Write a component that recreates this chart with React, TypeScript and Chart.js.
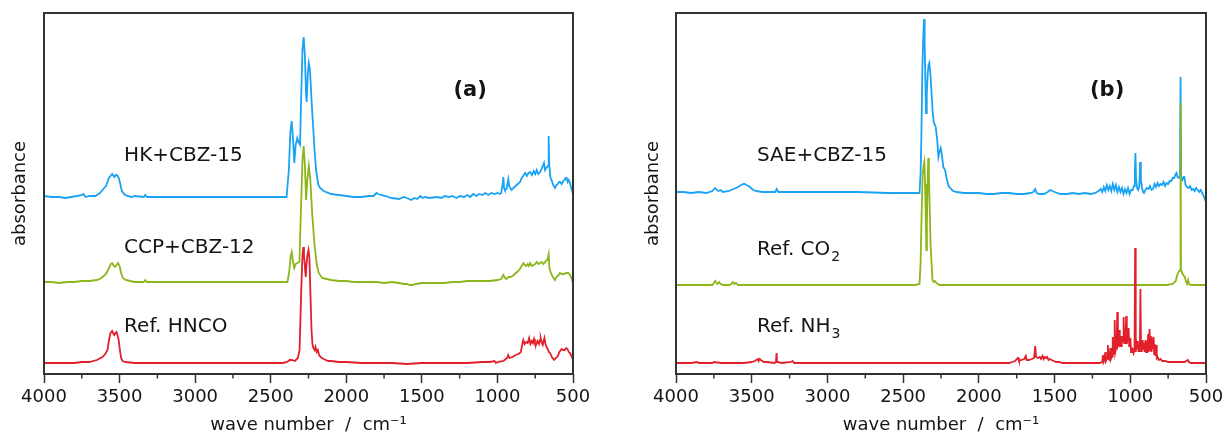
import React, { useEffect, useRef } from "react";
import { Chart, registerables } from "chart.js";

Chart.register(...registerables);

type Pt = [number, number];

const FONT = '"DejaVu Sans", Verdana, sans-serif';
const AXIS_COLOR = "#333333";
const TEXT_COLOR = "#151515";
const BLUE = "#1aa2f4";
const GREEN = "#8db51c";
const RED = "#e2202b";

const X_MIN = 500;
const X_MAX = 4000;
const majorTicks = [500, 1000, 1500, 2000, 2500, 3000, 3500, 4000];
const minorTicks = [750, 1250, 1750, 2250, 2750, 3250, 3750];
const Y_MAX = 361;

// ---------- panel (a) ----------
const hkCbz15: Pt[] = [
  [4000, 178], [3950, 177], [3900, 177], [3860, 176], [3820, 177], [3780, 178], [3750, 179], [3739, 180], [3725, 177],
  [3700, 178], [3660, 178], [3630, 181], [3613, 184], [3590, 188], [3570, 196], [3555, 199], [3549, 200], [3540, 198],
  [3535, 197], [3525, 199], [3518, 199], [3505, 196], [3495, 190], [3485, 183], [3470, 180], [3450, 178], [3420, 177],
  [3400, 178], [3340, 177], [3330, 179], [3320, 177], [3250, 177], [3100, 177], [3000, 177], [2900, 177], [2800, 177],
  [2700, 177], [2600, 177], [2500, 177], [2420, 177], [2395, 177], [2388, 190], [2380, 204], [2370, 242], [2361, 253],
  [2352, 234], [2344, 211], [2335, 229], [2324, 236], [2314, 231], [2306, 229], [2298, 279], [2290, 324], [2282, 337],
  [2274, 319], [2266, 279], [2262, 272], [2255, 299], [2248, 311], [2240, 304], [2230, 274], [2220, 249], [2210, 224],
  [2200, 204], [2185, 189], [2173, 186], [2150, 183], [2100, 180], [2050, 179], [2000, 178], [1950, 177], [1900, 177],
  [1850, 178], [1820, 178], [1800, 181], [1790, 180], [1770, 179], [1740, 178], [1700, 176], [1650, 175], [1620, 177],
  [1600, 176], [1570, 174], [1550, 176], [1530, 175], [1510, 178], [1495, 176], [1480, 177], [1450, 176], [1400, 177],
  [1370, 176], [1350, 178], [1320, 177], [1300, 178], [1270, 176], [1250, 178], [1220, 177], [1200, 179], [1180, 177],
  [1160, 180], [1140, 178], [1120, 180], [1100, 179], [1080, 181], [1060, 179], [1040, 181], [1020, 180], [1000, 181],
  [985, 180], [975, 181], [965, 190], [961, 197], [956, 186], [950, 184], [940, 185], [928, 195], [922, 188], [915, 186],
  [906, 184], [895, 186], [880, 188], [865, 190], [850, 192], [840, 196], [830, 198], [817, 201], [805, 198], [795, 201],
  [784, 202], [772, 199], [760, 203], [750, 200], [740, 204], [730, 200], [718, 202], [708, 205], [700, 208], [692, 211],
  [685, 204], [678, 206], [665, 208], [661, 238], [657, 209], [650, 197], [640, 193], [630, 189], [619, 186], [610, 189],
  [600, 190], [593, 192], [586, 192], [575, 190], [565, 193], [555, 194], [548, 196], [542, 196], [535, 192], [528, 194],
  [520, 191], [512, 186], [505, 183], [500, 179],
];

const ccpCbz12: Pt[] = [
  [4000, 92], [3950, 92], [3900, 91], [3850, 92], [3800, 92], [3750, 93], [3700, 93], [3650, 94], [3620, 96], [3590, 100],
  [3570, 106], [3558, 110], [3549, 111], [3538, 108], [3530, 107], [3520, 109], [3511, 111], [3500, 108], [3490, 101],
  [3478, 96], [3460, 94], [3430, 93], [3400, 92], [3340, 92], [3330, 94], [3320, 92], [3200, 92], [3000, 92], [2800, 92],
  [2600, 92], [2450, 92], [2400, 92], [2390, 92], [2382, 98], [2375, 106], [2368, 118], [2361, 122], [2352, 112],
  [2344, 106], [2335, 110], [2324, 111], [2310, 112], [2300, 164], [2290, 214], [2282, 228], [2274, 209], [2266, 174],
  [2258, 194], [2248, 208], [2238, 194], [2225, 159], [2210, 129], [2195, 109], [2182, 101], [2160, 96], [2130, 95],
  [2100, 94], [2050, 93], [2000, 93], [1950, 92], [1900, 92], [1850, 92], [1800, 92], [1750, 91], [1700, 92], [1650, 91],
  [1620, 90], [1600, 90], [1580, 89], [1560, 89], [1540, 90], [1500, 91], [1450, 91], [1400, 91], [1350, 91], [1300, 92],
  [1250, 92], [1200, 93], [1150, 93], [1100, 93], [1050, 93], [1000, 94], [975, 95], [961, 99], [950, 96], [940, 95],
  [928, 97], [915, 97], [900, 98], [885, 100], [870, 102], [855, 104], [840, 108], [828, 111], [818, 109], [810, 108],
  [800, 110], [792, 108], [784, 111], [772, 108], [760, 109], [750, 110], [740, 112], [728, 110], [718, 111], [707, 112],
  [698, 110], [690, 111], [680, 113], [670, 114], [661, 120], [656, 106], [648, 102], [640, 99], [630, 96], [619, 94],
  [610, 97], [600, 98], [586, 101], [575, 100], [560, 100], [545, 101], [531, 101], [520, 99], [510, 96], [500, 91],
];

const refHnco: Pt[] = [
  [4000, 11], [3900, 11], [3800, 11], [3750, 12], [3700, 12], [3650, 14], [3613, 17], [3595, 20], [3580, 24], [3570, 34],
  [3560, 41], [3549, 43], [3540, 40], [3535, 39], [3528, 41], [3520, 42], [3512, 38], [3506, 34], [3498, 24], [3490, 16],
  [3480, 13], [3460, 12], [3400, 11], [3350, 11], [3300, 11], [3200, 11], [3000, 11], [2800, 11], [2600, 11], [2500, 11],
  [2420, 11], [2390, 12], [2375, 14], [2360, 14], [2340, 13], [2320, 16], [2309, 24], [2298, 84], [2290, 119], [2284, 127],
  [2280, 118], [2276, 112], [2272, 103], [2268, 97], [2264, 108], [2258, 118], [2250, 124], [2244, 116], [2238, 84],
  [2230, 44], [2224, 30], [2218, 26], [2210, 24], [2204, 27], [2196, 22], [2188, 24], [2180, 19], [2170, 17], [2150, 15],
  [2120, 13], [2100, 13], [2050, 12], [2000, 12], [1900, 11], [1800, 11], [1700, 11], [1600, 10], [1500, 11], [1400, 11],
  [1300, 11], [1200, 11], [1100, 12], [1050, 12], [1020, 13], [1010, 11], [1000, 12], [960, 13], [945, 15], [935, 16],
  [929, 19], [920, 16], [900, 17], [880, 19], [860, 20], [845, 22], [835, 30], [829, 34], [820, 30], [810, 32], [800, 31],
  [790, 36], [782, 30], [772, 33], [765, 31], [758, 35], [752, 31], [745, 29], [735, 33], [725, 30], [718, 34], [714, 36],
  [706, 31], [700, 29], [694, 33], [689, 36], [682, 30], [675, 27], [668, 25], [660, 22], [651, 21], [640, 17], [625, 14],
  [612, 16], [600, 18], [590, 22], [575, 25], [565, 24], [555, 24], [545, 26], [537, 25], [528, 22], [520, 21], [510, 18],
  [500, 14],
];

// ---------- panel (b) ----------
const saeCbz15: Pt[] = [
  [4000, 182], [3950, 182], [3900, 181], [3850, 182], [3800, 181], [3760, 183], [3741, 186], [3730, 184], [3720, 183],
  [3705, 184], [3690, 182], [3650, 183], [3620, 185], [3590, 187], [3570, 189], [3555, 190], [3547, 190], [3535, 189],
  [3520, 188], [3505, 186], [3490, 184], [3470, 183], [3430, 182], [3400, 182], [3345, 182], [3335, 185], [3325, 182],
  [3200, 182], [3000, 182], [2800, 182], [2600, 181], [2500, 181], [2420, 181], [2392, 181], [2385, 200], [2380, 234],
  [2373, 307], [2366, 342], [2362, 355], [2358, 330], [2353, 290], [2349, 261], [2344, 280], [2338, 300], [2332, 309],
  [2327, 311], [2320, 300], [2312, 280], [2305, 262], [2298, 252], [2285, 247], [2275, 234], [2267, 217], [2260, 222],
  [2252, 226], [2245, 220], [2235, 207], [2223, 204], [2212, 195], [2200, 188], [2190, 186], [2170, 183], [2146, 182],
  [2100, 181], [2050, 181], [2000, 181], [1950, 180], [1900, 180], [1850, 181], [1800, 181], [1750, 180], [1700, 180],
  [1660, 181], [1640, 182], [1628, 185], [1618, 181], [1600, 180], [1570, 180], [1545, 182], [1530, 184], [1515, 183],
  [1500, 182], [1460, 180], [1420, 180], [1380, 181], [1340, 180], [1300, 181], [1260, 180], [1230, 181], [1210, 183],
  [1195, 185], [1185, 182], [1175, 187], [1165, 183], [1155, 189], [1145, 184], [1135, 188], [1125, 183], [1115, 190],
  [1105, 184], [1095, 189], [1085, 182], [1075, 187], [1065, 182], [1055, 186], [1045, 180], [1035, 185], [1025, 181],
  [1015, 186], [1005, 180], [995, 184], [985, 184], [975, 188], [970, 200], [966, 221], [962, 196], [955, 186], [948, 184],
  [940, 188], [935, 212], [930, 194], [922, 186], [915, 182], [909, 181], [900, 184], [890, 186], [880, 185], [870, 188],
  [860, 184], [850, 185], [840, 190], [830, 187], [820, 191], [810, 188], [800, 190], [790, 189], [780, 192], [770, 188],
  [760, 191], [750, 190], [740, 193], [730, 193], [720, 196], [710, 196], [700, 200], [695, 201], [688, 197], [680, 196],
  [672, 198], [668, 297], [664, 196], [656, 194], [648, 197], [643, 197], [635, 189], [625, 187], [615, 186], [605, 188],
  [595, 184], [585, 185], [575, 183], [565, 186], [555, 184], [545, 182], [535, 184], [525, 181], [515, 178], [508, 175],
  [500, 172],
];

const refCo2: Pt[] = [
  [4000, 89], [3900, 89], [3800, 89], [3760, 89], [3750, 91], [3741, 93], [3733, 91], [3725, 90], [3715, 92], [3705, 90],
  [3690, 89], [3650, 89], [3635, 90], [3625, 92], [3615, 90], [3605, 91], [3590, 89], [3500, 89], [3000, 89], [2600, 89],
  [2420, 89], [2392, 90], [2385, 110], [2378, 160], [2371, 200], [2365, 208], [2360, 212], [2355, 190], [2350, 150],
  [2347, 124], [2343, 150], [2338, 195], [2334, 216], [2330, 200], [2325, 170], [2319, 129], [2312, 110], [2306, 94],
  [2298, 92], [2290, 93], [2280, 91], [2260, 89], [2000, 89], [1700, 89], [1500, 89], [1200, 89], [900, 89], [760, 89],
  [720, 90], [700, 93], [690, 99], [682, 102], [675, 103], [671, 104], [668, 271], [665, 104], [658, 101], [650, 99],
  [640, 97], [632, 92], [625, 90], [618, 94], [612, 90], [600, 89], [500, 89],
];

const refNh3: Pt[] = [
  [4000, 11], [3900, 11], [3860, 12], [3850, 11], [3760, 11], [3750, 12], [3700, 11], [3550, 11], [3500, 12], [3480, 13],
  [3470, 14], [3460, 15], [3455, 13], [3448, 15], [3440, 14], [3420, 12], [3400, 12], [3350, 11], [3340, 12], [3336, 21],
  [3332, 12], [3300, 11], [3240, 12], [3230, 13], [3220, 11], [3000, 11], [2500, 11], [2000, 11], [1800, 11], [1780, 12],
  [1760, 13], [1750, 15], [1741, 16], [1735, 13], [1720, 14], [1700, 15], [1690, 18], [1684, 14], [1670, 14], [1650, 15],
  [1635, 16], [1628, 28], [1622, 17], [1610, 16], [1598, 17], [1590, 15], [1580, 18], [1572, 15], [1565, 17], [1555, 16],
  [1548, 17], [1540, 14], [1530, 15], [1520, 14], [1505, 13], [1490, 12], [1470, 12], [1450, 11], [1300, 11], [1200, 11],
  [1185, 12], [1180, 19], [1176, 12], [1170, 14], [1165, 22], [1161, 13], [1152, 16], [1148, 29], [1144, 15], [1136, 14],
  [1132, 26], [1128, 15], [1120, 18], [1116, 37], [1112, 20], [1107, 22], [1103, 54], [1099, 22], [1094, 26], [1090, 30],
  [1086, 62], [1082, 28], [1077, 30], [1073, 44], [1069, 27], [1065, 38], [1061, 28], [1056, 30], [1052, 38], [1048, 33],
  [1044, 57], [1040, 31], [1035, 34], [1031, 40], [1027, 58], [1023, 30], [1019, 34], [1015, 35], [1011, 46], [1007, 28],
  [1003, 32], [999, 36], [995, 22], [990, 26], [984, 25], [978, 21], [972, 24], [968, 126], [964, 22], [958, 30], [954, 26],
  [950, 33], [946, 22], [941, 30], [937, 22], [933, 85], [929, 23], [924, 26], [918, 34], [914, 24], [909, 31], [905, 22],
  [900, 34], [896, 22], [891, 33], [887, 21], [882, 40], [878, 22], [873, 45], [869, 24], [864, 38], [860, 22], [855, 30],
  [851, 25], [846, 37], [842, 20], [838, 30], [833, 18], [829, 29], [825, 16], [820, 17], [812, 14], [800, 15], [790, 13],
  [770, 13], [750, 12], [700, 12], [660, 12], [640, 12], [630, 13], [620, 14], [612, 12], [600, 11], [500, 11],
];

interface Series { name: string; points: Pt[]; color: string }
interface Label { text: string; sub?: string; x: number; y: number; bold?: boolean; size: number; align?: CanvasTextAlign }
interface Panel {
  series: Series[];
  labels: Label[];
  left: number;
  yAxisWidth: number;
  padRight: number;
  yTitlePad: number;
}

const panelA: Panel = {
  series: [
    { name: "Ref. HNCO", points: refHnco, color: RED },
    { name: "CCP+CBZ-12", points: ccpCbz12, color: GREEN },
    { name: "HK+CBZ-15", points: hkCbz15, color: BLUE },
  ],
  labels: [
    { text: "HK+CBZ-15", x: 3470, y: 218, size: 20 },
    { text: "CCP+CBZ-12", x: 3470, y: 126, size: 20 },
    { text: "Ref. HNCO", x: 3470, y: 47, size: 20 },
    { text: "(a)", x: 1181, y: 283, size: 21, bold: true, align: "center" },
  ],
  left: 0,
  yAxisWidth: 44,
  padRight: 39,
  yTitlePad: 10,
};

const panelB: Panel = {
  series: [
    { name: "Ref. NH3", points: refNh3, color: RED },
    { name: "Ref. CO2", points: refCo2, color: GREEN },
    { name: "SAE+CBZ-15", points: saeCbz15, color: BLUE },
  ],
  labels: [
    { text: "SAE+CBZ-15", x: 3465, y: 218, size: 20 },
    { text: "Ref. CO", sub: "2", x: 3465, y: 124, size: 20 },
    { text: "Ref. NH", sub: "3", x: 3465, y: 47, size: 20 },
    { text: "(b)", x: 1153, y: 283, size: 21, bold: true, align: "center" },
  ],
  left: 612,
  yAxisWidth: 64,
  padRight: 18,
  yTitlePad: 31,
};

function makeDecor(labels: Label[]) {
  return {
    id: "panelDecor",
    afterDraw(chart: any) {
      const { ctx, chartArea, scales } = chart;
      const xs = scales.x;
      const ys = scales.y;
      ctx.save();
      ctx.strokeStyle = AXIS_COLOR;
      ctx.lineWidth = 2;
      ctx.strokeRect(chartArea.left, chartArea.top, chartArea.right - chartArea.left, chartArea.bottom - chartArea.top);
      ctx.lineWidth = 1.5;
      ctx.beginPath();
      for (const v of minorTicks) {
        const px = xs.getPixelForValue(v);
        ctx.moveTo(px, chartArea.bottom);
        ctx.lineTo(px, chartArea.bottom + 4.5);
      }
      ctx.stroke();
      ctx.fillStyle = TEXT_COLOR;
      ctx.textBaseline = "middle";
      for (const lab of labels) {
        ctx.font = `${lab.bold ? "bold " : ""}${lab.size}px ${FONT}`;
        ctx.textAlign = lab.align || "left";
        const px = xs.getPixelForValue(lab.x);
        const py = ys.getPixelForValue(lab.y);
        ctx.fillText(lab.text, px, py);
        if (lab.sub) {
          const w = ctx.measureText(lab.text).width;
          ctx.font = `14px ${FONT}`;
          ctx.textAlign = "left";
          ctx.fillText(lab.sub, px + w + 1, py + 7);
        }
      }
      ctx.restore();
    },
  };
}

function buildChart(canvas: HTMLCanvasElement, panel: Panel) {
  return new Chart(canvas, {
    type: "line",
    data: {
      datasets: panel.series.map((s) => ({
        label: s.name,
        data: s.points.map(([x, y]) => ({ x, y })),
        borderColor: s.color,
        backgroundColor: s.color,
        borderWidth: 1.8,
        pointRadius: 0,
        tension: 0,
        fill: false,
      })),
    },
    options: {
      responsive: false,
      animation: false,
      events: [],
      layout: { padding: { left: 0, right: panel.padRight, top: 13, bottom: 0 } },
      plugins: { legend: { display: false }, tooltip: { enabled: false } },
      scales: {
        x: {
          type: "linear",
          reverse: true,
          min: X_MIN,
          max: X_MAX,
          afterBuildTicks: (s: any) => {
            s.ticks = majorTicks.map((v) => ({ value: v }));
          },
          afterFit: (s: any) => {
            s.height = 63;
            s.paddingLeft = 0;
            s.paddingRight = 0;
          },
          ticks: {
            autoSkip: false,
            maxRotation: 0,
            minRotation: 0,
            padding: 4,
            color: TEXT_COLOR,
            font: { size: 18, family: FONT },
            callback: (v: any) => String(v),
          },
          grid: {
            display: true,
            drawOnChartArea: false,
            drawTicks: true,
            tickLength: 9,
            tickColor: AXIS_COLOR,
            tickWidth: 1.5,
          },
          border: { display: false },
          title: {
            display: true,
            text: "wave number  /  cm\u207B\u00B9",
            color: TEXT_COLOR,
            font: { size: 18, family: FONT },
            padding: { top: 0, bottom: 1 },
          },
        },
        y: {
          type: "linear",
          min: 0,
          max: Y_MAX,
          ticks: { display: false },
          grid: { display: false },
          border: { display: false },
          afterFit: (s: any) => {
            s.width = panel.yAxisWidth;
          },
          title: {
            display: true,
            text: "absorbance",
            color: TEXT_COLOR,
            font: { size: 18, family: FONT },
            padding: { top: panel.yTitlePad, bottom: 0 },
          },
        },
      },
    } as any,
    plugins: [makeDecor(panel.labels)],
  });
}

function PanelChart({ panel }: { panel: Panel }) {
  const ref = useRef<HTMLCanvasElement | null>(null);
  useEffect(() => {
    if (!ref.current) return;
    const chart = buildChart(ref.current, panel);
    return () => chart.destroy();
  }, [panel]);
  return (
    <canvas
      ref={ref}
      width={612}
      height={437}
      style={{ position: "absolute", left: panel.left, top: 0, width: 612, height: 437 }}
    />
  );
}

export default function App() {
  return (
    <div style={{ position: "absolute", left: 0, top: 0, width: 1224, height: 437, background: "#ffffff", overflow: "hidden" }}>
      <PanelChart panel={panelA} />
      <PanelChart panel={panelB} />
    </div>
  );
}
